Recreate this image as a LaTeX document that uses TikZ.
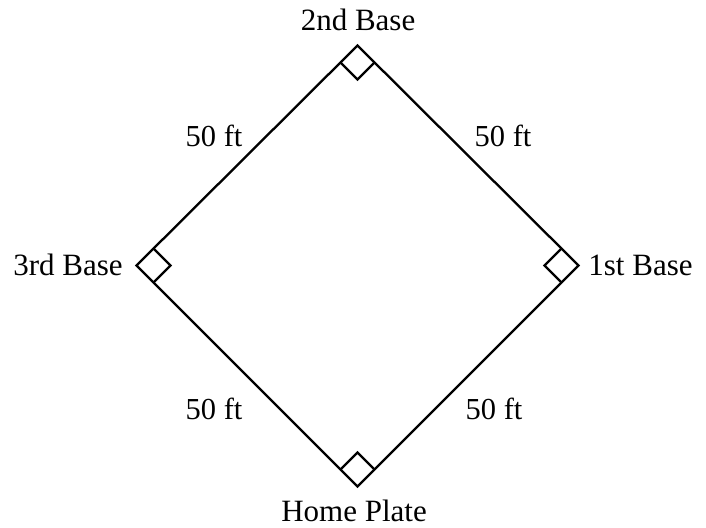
\documentclass[tikz,border=0pt]{standalone}
\usepackage{fontspec}
\setmainfont{Liberation Serif}
\usetikzlibrary{calc}
\begin{document}
\begin{tikzpicture}[x=1pt,y=-1pt,
  side/.style={line width=2.3pt,line join=miter},
  rightmark/.style={line width=2.3pt},
  lbl/.style={inner sep=0pt,anchor=base,font=\fontsize{31}{36}\selectfont},
  dist/.style={inner sep=0pt,anchor=base,font=\fontsize{30.5}{36}\selectfont}]
\useasboundingbox (0,0) rectangle (706,527);
\coordinate (T) at (357.5,45.5);
\coordinate (R) at (578.5,265.5);
\coordinate (B) at (357.5,486.5);
\coordinate (L) at (136.5,265.5);
\draw[side] (T) -- (R) -- (B) -- (L) -- cycle;
% right-angle marks
\draw[rightmark] ($(T)+(-17,17)$) -- ($(T)+(0,34)$) -- ($(T)+(17,17)$);
\draw[rightmark] ($(R)+(-17,-17)$) -- ($(R)+(-34,0)$) -- ($(R)+(-17,17)$);
\draw[rightmark] ($(B)+(-17,-17)$) -- ($(B)+(0,-34)$) -- ($(B)+(17,-17)$);
\draw[rightmark] ($(L)+(17,-17)$) -- ($(L)+(34,0)$) -- ($(L)+(17,17)$);
% labels
\node[lbl] (second) at (358,31) {2nd Base};
\node[lbl] (home) at (354,521) {Home Plate};
\node[lbl] (third) at (68,275) {3rd Base};
\node[lbl] (first) at (640.5,275) {1st Base};
\node[dist] (d1) at (214,146) {50 ft};
\node[dist] (d2) at (503,146) {50 ft};
\node[dist] (d3) at (214,419) {50 ft};
\node[dist] (d4) at (494,419) {50 ft};
\end{tikzpicture}
\end{document}
